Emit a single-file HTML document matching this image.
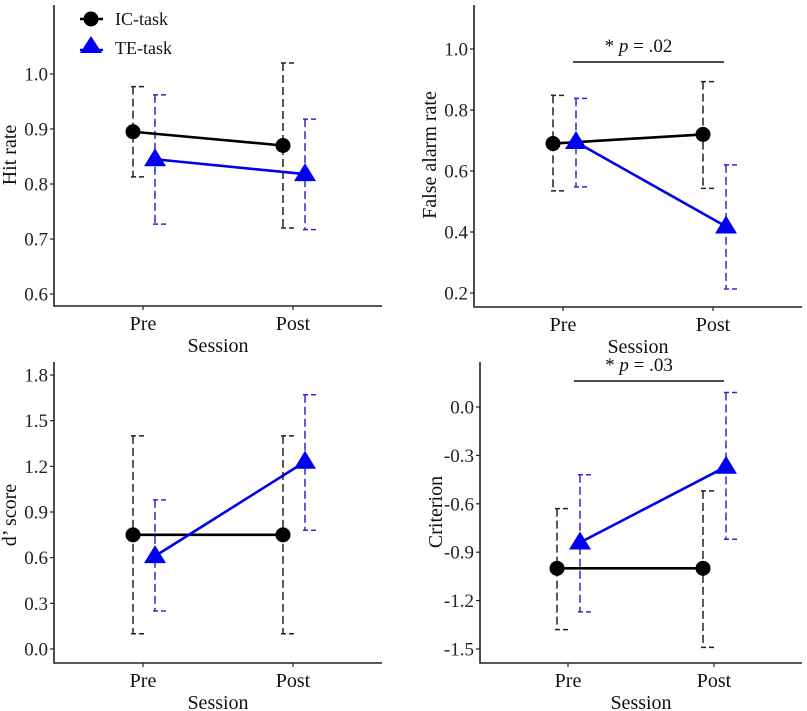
<!DOCTYPE html>
<html><head><meta charset="utf-8"><style>
html,body{margin:0;padding:0;background:#fff;}
svg{display:block;font-family:"Liberation Serif","Times New Roman",serif;}
</style></head><body>
<svg id="chart" width="807" height="711" viewBox="0 0 807 711" xmlns="http://www.w3.org/2000/svg"></svg>
<script>
const sessions = ["Pre", "Post"];
const hitIC = [0.895, 0.87];
const hitICLo = [0.813, 0.72];
const hitICHi = [0.977, 1.02];
const hitTE = [0.845, 0.818];
const hitTELo = [0.727, 0.717];
const hitTEHi = [0.962, 0.918];
const hitTicks = [0.6, 0.7, 0.8, 0.9, 1.0];
const faIC = [0.69, 0.72];
const faICLo = [0.535, 0.543];
const faICHi = [0.848, 0.893];
const faTE = [0.695, 0.418];
const faTELo = [0.548, 0.213];
const faTEHi = [0.838, 0.62];
const faTicks = [0.2, 0.4, 0.6, 0.8, 1.0];
const dIC = [0.75, 0.75];
const dICLo = [0.1, 0.1];
const dICHi = [1.4, 1.4];
const dTE = [0.61, 1.23];
const dTELo = [0.25, 0.78];
const dTEHi = [0.98, 1.67];
const dTicks = [0.0, 0.3, 0.6, 0.9, 1.2, 1.5, 1.8];
const cIC = [-1.0, -1.0];
const cICLo = [-1.38, -1.49];
const cICHi = [-0.63, -0.52];
const cTE = [-0.84, -0.37];
const cTELo = [-1.27, -0.82];
const cTEHi = [-0.42, 0.09];
const cTicks = [-1.5, -1.2, -0.9, -0.6, -0.3, 0.0];
const tickLabels = {hit:["0.6","0.7","0.8","0.9","1.0"],fa:["0.2","0.4","0.6","0.8","1.0"],d:["0.0","0.3","0.6","0.9","1.2","1.5","1.8"],c:["-1.5","-1.2","-0.9","-0.6","-0.3","0.0"]};

const svg = document.getElementById('chart');
const NS = "http://www.w3.org/2000/svg";
function mk(tag, attrs, parent){
  const e = document.createElementNS(NS, tag);
  for (const k in attrs) e.setAttribute(k, attrs[k]);
  (parent||svg).appendChild(e);
  return e;
}
function panel(cfg){
  const g = mk('g', {});
  
  
  const y = v => cfg.y0 + (v - cfg.v0) * (cfg.y1 - cfg.y0) / (cfg.v1 - cfg.v0);
  const x = i => cfg.xs[i];
  const ax = mk('path', {d:`M${cfg.ax} ${cfg.top} V${cfg.base} H${cfg.right}`, fill:'none', stroke:'#222', 'stroke-width':1.6}, g);
  
  
  cfg.ticks.forEach((t, i) => {
    mk('line', {x1:cfg.ax-4, x2:cfg.ax, y1:y(t), y2:y(t), stroke:'#222', 'stroke-width':1.2}, g);
    const tx = mk('text', {x:cfg.ax-6, y:y(t)+6.5, 'text-anchor':'end', 'font-size':19, fill:'#222'}, g);
    tx.textContent = cfg.labels[i];
    
    
  });
  sessions.forEach((s, i) => {
    mk('line', {x1:x(i), x2:x(i), y1:cfg.base, y2:cfg.base+4, stroke:'#222', 'stroke-width':1.2}, g);
    const tx = mk('text', {x:x(i), y:cfg.base+24, 'text-anchor':'middle', 'font-size':20, fill:'#111'}, g);
    tx.textContent = s;
    
    
  });
  const xt = mk('text', {x:(x(0)+x(1))/2, y:cfg.base+46, 'text-anchor':'middle', 'font-size':20, fill:'#111'}, g);
  xt.textContent = 'Session';
  
  
  const yt = mk('text', {x:0, y:0, 'text-anchor':'middle', 'font-size':20, fill:'#111', transform:`translate(${cfg.ytx},${cfg.yty}) rotate(-90)`}, g);
  yt.textContent = cfg.ytitle;
  
  
  if (cfg.sig) {
    const sl = mk('line', {x1:cfg.sig.x1, x2:cfg.sig.x2, y1:cfg.sig.y, y2:cfg.sig.y, stroke:'#111', 'stroke-width':1.5}, g);
    
    
    const st = mk('text', {x:(cfg.sig.x1+cfg.sig.x2)/2-10, y:cfg.sig.y-10, 'text-anchor':'middle', 'font-size':19, fill:'#111'}, g);
    st.innerHTML = '* <tspan font-style="italic">p</tspan> = ' + cfg.sig.txt;
    
    
  }
  const series = [
    {v:cfg.ic, lo:cfg.icLo, hi:cfg.icHi, col:'#000', dash:'#222', off:cfg.dIC, shape:'circle', name:'ic-task'},
    {v:cfg.te, lo:cfg.teLo, hi:cfg.teHi, col:'#0000ee', dash:'#2a2ad0', off:cfg.dTE, shape:'tri', name:'te-task'}
  ];
  series.forEach(s => {
    s.v.forEach((v, i) => {
      const px = x(i) + s.off;
      const eb = mk('line', {x1:px, x2:px, y1:y(s.hi[i]), y2:y(s.lo[i]), stroke:s.dash, 'stroke-width':1.5, 'stroke-dasharray':'8 4'}, g);
      
      
      const cp = mk('path', {d:`M${px-2} ${y(s.hi[i])} H${px+3} M${px+6} ${y(s.hi[i])} H${px+11} M${px-2} ${y(s.lo[i])} H${px+3} M${px+6} ${y(s.lo[i])} H${px+11}`, fill:'none', stroke:s.dash, 'stroke-width':1.5}, g);
      
      
    });
  });
  series.forEach(s => {
    const ln = mk('line', {x1:x(0)+s.off, y1:y(s.v[0]), x2:x(1)+s.off, y2:y(s.v[1]), stroke:s.col, 'stroke-width':2.6}, g);
    
    
  });
  series.forEach(s => {
    s.v.forEach((v, i) => {
      const px = x(i) + s.off, py = y(v);
      let m;
      if (s.shape === 'circle') m = mk('circle', {cx:px, cy:py, r:7.5, fill:s.col}, g);
      else m = mk('polygon', {points:`${px},${py-11} ${px-11},${py+7} ${px+11},${py+7}`, fill:s.col}, g);
      
      
    });
  });
}
panel({name:'hit-rate-panel', ax:54, top:5, base:306, right:382, xs:[143,293], v0:0.6, y0:294, v1:1.0, y1:74,
  ticks:hitTicks, labels:tickLabels.hit, ytitle:'Hit rate', ytx:16, yty:155, dIC:-10, dTE:12,
  ic:hitIC, icLo:hitICLo, icHi:hitICHi, te:hitTE, teLo:hitTELo, teHi:hitTEHi});
panel({name:'false-alarm-panel', ax:474, top:5, base:307, right:802, xs:[563,713], v0:0.2, y0:293, v1:1.0, y1:49,
  ticks:faTicks, labels:tickLabels.fa, ytitle:'False alarm rate', ytx:436, yty:155, dIC:-10, dTE:13,
  ic:faIC, icLo:faICLo, icHi:faICHi, te:faTE, teLo:faTELo, teHi:faTEHi, sig:{x1:573, x2:724, y:62, txt:'.02'}});
panel({name:'d-prime-panel', ax:54, top:362, base:663, right:382, xs:[143,293], v0:0.0, y0:649, v1:1.8, y1:375,
  ticks:dTicks, labels:tickLabels.d, ytitle:'d’ score', ytx:16, yty:515, dIC:-10, dTE:12,
  ic:dIC, icLo:dICLo, icHi:dICHi, te:dTE, teLo:dTELo, teHi:dTEHi});
panel({name:'criterion-panel', ax:480, top:362, base:663, right:802, xs:[568,714], v0:-1.5, y0:649, v1:0.0, y1:407,
  ticks:cTicks, labels:tickLabels.c, ytitle:'Criterion', ytx:442, yty:512, dIC:-11, dTE:12,
  ic:cIC, icLo:cICLo, icHi:cICHi, te:cTE, teLo:cTELo, teHi:cTEHi, sig:{x1:574, x2:724, y:381, txt:'.03'}});

// legend
const lg = mk('g', {});


mk('line', {x1:80, x2:103, y1:19, y2:19, stroke:'#000', 'stroke-width':2.6}, lg);
const lc = mk('circle', {cx:91, cy:19, r:7.5, fill:'#000'}, lg);


mk('line', {x1:80, x2:103, y1:50, y2:50, stroke:'#0000ee', 'stroke-width':2.6}, lg);
const lt = mk('polygon', {points:'91,36 80,53 102,53', fill:'#0000ee'}, lg);


const l1 = mk('text', {x:115, y:25, 'font-size':18, fill:'#111'}, lg);
l1.textContent = 'IC-task';


const l2 = mk('text', {x:115, y:54, 'font-size':18, fill:'#111'}, lg);
l2.textContent = 'TE-task';


</script>
</body></html>
